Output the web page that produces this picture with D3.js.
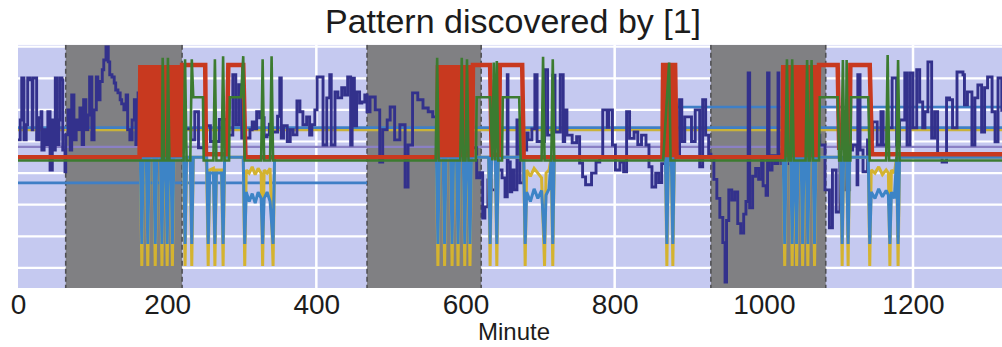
<!DOCTYPE html>
<html><head><meta charset="utf-8">
<script src="https://cdn.jsdelivr.net/npm/d3@7"></script>
<style>
html,body{margin:0;padding:0;background:#fff;}
svg{display:block;font-family:"Liberation Sans",Arial,sans-serif;}
</style></head><body>
<svg id="chart" width="1002" height="347"></svg>
<script>
// ---------- data ----------
const chartTitle = "Pattern discovered by [1]";
const xLabel = "Minute";
const xTicks = [0,200,400,600,800,1000,1200];
const xGrid = [400,800,1200];
const yGrid = [0,10,20,30,40,50,60,70];
const shadedSpans = [[64,220],[468,621],[929,1083]];

// level (constant) lines
const levelLavender = [[0,38.3],[1320,38.3]];
const levelYellow = [[0,43.6],[1320,43.6]];
const levelBlue = [[0,44.4],[1320,44.4]];
const levelBlueHigh = [[867,50.9],[1320,50.9]];
const levelBlueLow = [[0,26.9],[468,26.9]];

// dark navy signal
const navySeries = [
[0,40.5],[3,46.8],[5,60.1],[8,40.5],[11,45.3],[13,60.1],[16,59.5],[19,43.7],[20,60.1],[24,60.1],[25,40.5],[28,47.5],[31,49.4],[32,37.3],[35,43.7],[38,39],[40,49.4],[43,31],[46,46.8],[48,37.3],[50,60.1],[52,39],[55,46.8],[56,60.1],[59,59.5],[60,37.3],[63,30.4],[64,42.1],
[67,50],[70,37.3],[72,54.7],[75,40.5],[78,46.8],[80,43.7],[83,50.6],[86,39],[88,53.2],[91,43.7],[94,48.4],[96,60.4],[99,40.5],[102,50],[105,60.4],[107,53.2],[110,59],[113,62.7],[115,65.8],[118,69.9],[121,65.2],[123,61.1],[126,60.4],[129,58.5],[131,56.3],[134,55.4],[137,53.2],[139,51.9],[142,50],[145,54.7],[147,43.7],[150,40.5],[153,46.8],[156,53.2],[158,39],[161,55.4],[164,37.3],
[170,45],[180,40],[190,48],[200,42],[210,38],[220,44],[232,40.5],[237,49.4],[242,38],[250,45],[258,40],[270,47],[280,42],[288,61.1],[292,45.3],[296,58],[300,41.1],
[307,41.1],[311,43.7],[314,46.2],[317,44],[320,49.4],[324,47.5],[330,41.5],[334,42.1],[337,45.5],[340,43],[348,48],[351,60.1],[353,41.1],[356,45],[361,40],[365,43.7],[369,42.1],[374,52.8],[378,49.4],[382,45.3],[387,47.8],[391,42],[394,45.3],[398,50],[401,60.4],[405,60.4],[408,60.4],[409,38.9],[414,53.8],[418,61.1],[420,38.9],[425,55.7],[429,53.8],[434,57],[438,54.7],[442,60.4],[444,60.4],[446,38.9],[448,60],[451,45],[454,55.7],[458,52.2],[461,52.5],[465,54.7],[468,49.4],
[472,54.1],[479,50],[485,33.5],[489,43.7],[495,46.8],[499,50.9],[505,40.5],[512,45.3],[519,25.6],[523,38.9],[529,55.4],[536,53.2],[543,50.6],[550,49.4],[556,47.8],[562,43.7],
[572,40],[586,42],[599,40],[609,38],[615,28.5],[619,30.1],[623,15.8],[626,19.3],[630,27.8],[635,24.7],[642,31],[649,28.5],[653,22.5],[656,61.1],[657,33.5],[660,24.1],[662,31],[665,24.7],[669,46.8],[673,26.9],[678,37.3],[682,42.7],
[684,40.5],[689,44],[693,61.1],[696,40],[706,62.7],[710,42],[717,61],[720,43],[727,61.1],[731,40],[733,50],[736,42],[743,39.6],[749,41.5],[753,33.2],[757,28.8],[761,26.3],[769,30],[775,33.5],[780,35.1],[784,50],[790,44.5],[792,50],[797,38.9],[801,31],[807,33.5],[812,30.4],[816,49.4],[820,41],[826,43],[831,39],[836,42],[842,38.9],[846,32],[850,25.6],[855,30],[859,27],[863,33],
[870,32.6],[877,35],[883,35],[887,53.2],[890,40],[894,47.8],[899,47.8],[903,40],[908,50],[912,50],[914,32],[918,53.2],[922,42],[926,36],
[929,35],[933,28],[937,22],[941,16],[945,8],[948,-4.5],[950,15],[953,24.7],[957,21.5],[961,24],[965,14],[969,11],[973,17],[976,21],[979,61.7],[981,19],[985,29],[989,31.5],[993,28],[997,35],[999,26],[1003,23],[1005,61.7],[1007,31],[1011,35.5],[1015,33],[1019,61.7],[1020,36],[1024,33],
[1042,40],[1062,42],[1075,38.9],[1082,24.7],[1088,12.7],[1092,31],[1097,17.7],[1102,34.2],[1109,24.7],[1115,37.3],[1119,38.9],[1125,26.3],[1126,61.1],[1129,37.3],[1133,30.4],[1139,40.5],[1146,46.2],[1152,38.9],[1157,49.4],[1160,38.9],
[1165,44.3],[1172,60.1],[1178,38.9],[1182,46.8],[1189,61.7],[1192,38.9],[1196,61.7],[1200,44.3],[1205,62.7],[1209,52.5],[1213,44.3],[1216,49.4],[1220,65.2],[1225,41.1],[1229,49.4],[1233,35.8],[1239,33.5],[1245,53.8],[1249,53.2],[1253,44.3],[1259,62],[1263,62],[1267,61.1],[1269,51.6],[1273,55.7],[1279,38.9],[1283,53.8],[1287,57.9],[1292,43],[1296,57],[1300,60.4],[1306,49.4],[1310,39.9],[1314,60.1],[1319,49.4]
];

// red signal
const redSeries = [
[0,35],[163,35],
[164,64.2],[166,35],[168,64.2],[170,35],[172,64.2],[174,35],[176,64.2],[178,35],[180,64.2],[182,35],[184,64.2],[186,35],[188,64.2],[190,35],[192,64.2],[194,35],[196,64.2],[198,35],[200,64.2],[202,35],[204,64.2],[206,35],[208,64.2],[210,35],[212,64.2],[214,35],[216,64.2],[218,35],[220,64.2],
[251,64.2],[252,36],[280,36],[282,64.2],[302,64.2],[305,35],[562,35],
[563,64.2],[565,35],[567,64.2],[569,35],[571,64.2],[573,35],[575,64.2],[577,35],[579,64.2],[581,35],[583,64.2],[585,35],[587,64.2],[589,35],[591,64.2],[593,35],[595,64.2],[597,35],[599,64.2],[601,35],[603,64.2],[605,35],[607,64.2],[609,35],[610,64.2],
[633,64.2],[635,35.8],[645,35.8],[646,64.2],[676,64.2],[678,35],[864,35],
[865,64.9],[867,35],[869,64.9],[871,35],[873,64.9],[875,35],[877,64.9],[879,35],[881,64.9],[883,35],[1025,35],
[1026,64.2],[1028,35],[1030,64.2],[1032,35],[1034,64.2],[1036,35],[1038,64.2],[1040,35],[1042,64.2],[1044,35],[1046,64.2],[1048,35],[1050,64.2],[1052,35],[1054,64.2],[1056,35],[1058,64.2],[1060,35],[1062,64.2],[1064,35],[1066,64.2],[1068,35],[1070,64.2],[1072,35],[1074,64.2],
[1099,64.2],[1101,38],[1115,38],[1116,64.2],[1142,64.2],[1145,36],[1320,36]
];

// green signal
const greenSeries = [
[0,34],[193,34],[194,66.5],[196,34],[200,34],[201,66.5],[203,34],[222,34],[224,66],[226,34],[231,34],[233,66],[235,54],[248,54],[249,34],[262,34],[264,66],[266,34],[273,34],[275,67],[277,34],[283,34],[284,54],[299,54],[302,67],[304,34],[326,34],[328,66],[330,34],[338,34],[340,67],[342,34],
[560,34],[562,66.5],[564,34],[593,34],[595,66.5],[597,34],[600,34],[602,66],[604,34],[614,34],[615,54],[633,54],[636,34],[638,65],[640,34],[642,65.5],[644,34],[649,34],[650,54],[672,54],[674,34],[702,34],[704,66.8],[706,34],[715,34],[717,66],[719,34],[865,34],[873,65],[875,34],
[1029,34],[1031,66],[1033,34],[1036,34],[1038,66],[1040,34],[1056,34],[1058,65.8],[1060,34],[1062,34],[1064,65.8],[1066,34],[1074,34],[1075,54],[1099,54],[1101,34],[1104,34],[1106,65.8],[1108,34],[1110,34],[1111,65.8],[1113,34],[1116,34],[1117,54],[1140,54],[1142,34],[1164,34],[1166,67.4],[1168,34],[1178,34],[1180,65.8],[1182,34],[1320,34]
];

// light blue signal
const blueSeries = [
[0,35],[164,35],[166,7.6],[168,35],[172,35],[174,7.6],[176,35],[182,35],[184,7.6],[186,35],[191,35],[193,7.6],[195,35],[198,35],[200,7.6],[202,35],[205,35],[207,7.6],[209,35],[222,35],[224,7.6],[226,35],[231,35],[233,7.6],[235,35],[253,35],[255,7.6],[257,30],[262,30],[264,7.6],[266,30],[273,30],[275,7.6],[277,35],[302,35],[304,7.6],[306,24],[310,21],[314,23.5],[318,20.5],[322,24],[326,22],[328,7.6],[330,22],[334,24],[338,21],[342,7.6],[344,35],
[561,35],[563,7.6],[565,35],[570,35],[572,7.6],[574,35],[580,35],[582,7.6],[584,35],[588,35],[590,7.6],[592,35],[597,35],[599,7.6],[601,35],[604,35],[606,7.6],[608,35],[631,35],[633,7.6],[635,35],[640,35],[642,7.6],[644,35],[678,35],[680,7.6],[682,24],[687,21],[692,25],[697,22],[702,24.5],[706,7.6],[708,23],[712,25],[715,35],[717,7.6],[719,35],
[868,35],[870,7.6],[872,35],[876,35],[878,7.6],[880,35],
[1026,35],[1028,7.6],[1030,35],[1036,35],[1038,7.6],[1040,35],[1042,35],[1044,7.6],[1046,35],[1050,35],[1052,7.6],[1054,35],[1057,35],[1059,7.6],[1061,35],[1066,35],[1068,7.6],[1070,35],[1103,35],[1105,7.6],[1107,35],[1111,35],[1113,7.6],[1115,35],[1140,35],[1142,7.6],[1144,24],[1149,22],[1154,25],[1159,22.5],[1164,24.5],[1167,23],[1169,7.6],[1171,24],[1175,22],[1178,35],[1180,7.6],[1182,35],[1320,35]
];

// yellow signal
const yellowSeries = [
[0,35],[164,35],[166,0.6],[168,35],[172,35],[174,0.6],[176,35],[182,35],[184,0.6],[186,35],[191,35],[193,0.6],[195,35],[198,35],[200,0.6],[202,35],[205,35],[207,0.6],[209,35],[222,35],[224,0.6],[226,35],[231,35],[233,0.6],[235,35],[252,35],[253,31],[255,0.6],[257,31],[262,31.5],[264,0.6],[266,31],[273,31],[275,0.6],[277,35],[302,35],[304,0.6],[306,31],[310,30],[314,32],[318,29.5],[322,31.5],[326,30],[328,0.6],[330,31],[334,30],[338,31.5],[342,0.6],[344,35],
[561,35],[563,0.6],[565,35],[570,35],[572,0.6],[574,35],[580,35],[582,0.6],[584,35],[588,35],[590,0.6],[592,35],[597,35],[599,0.6],[601,35],[604,35],[606,0.6],[608,35],[631,35],[633,0.6],[635,35],[640,35],[642,0.6],[644,35],[678,35],[680,0.6],[682,31],[687,29],[692,31.5],[697,30],[702,28.5],[706,0.6],[708,30],[712,31],[715,35],[717,0.6],[719,35],
[868,35],[870,0.6],[872,35],[876,35],[878,0.6],[880,35],
[1026,35],[1028,0.6],[1030,35],[1036,35],[1038,0.6],[1040,35],[1042,35],[1044,0.6],[1046,35],[1050,35],[1052,0.6],[1054,35],[1057,35],[1059,0.6],[1061,35],[1066,35],[1068,0.6],[1070,35],[1103,35],[1105,0.6],[1107,35],[1111,35],[1113,0.6],[1115,35],[1140,35],[1142,0.6],[1144,31],[1149,30],[1154,32],[1159,29.5],[1164,31],[1167,30],[1169,0.6],[1171,31],[1175,30],[1178,35],[1180,0.6],[1182,35],[1320,35]
];

// ---------- drawing ----------
const svg = d3.select("#chart");
const x = d3.scaleLinear().domain([0,1320]).range([18,1002.5]);
const y = d3.scaleLinear().domain([-7,70.6]).range([290,44.8]);
const yBottom = -6.4;

svg.append("defs").append("clipPath").attr("id","plotclip")
  .append("rect").attr("x",x(0)).attr("y",y(70.6)).attr("width",x(1320)-x(0)).attr("height",y(yBottom)-y(70.6));

const plot = svg.append("g").attr("clip-path","url(#plotclip)");

plot.append("rect").attr("x",x(0)).attr("y",y(70.6)).attr("width",x(1320)-x(0)).attr("height",y(yBottom)-y(70.6))
  .attr("fill","#c5c9f0");

plot.selectAll(".hgrid").data(yGrid).join("line").attr("class","hgrid")
  .attr("x1",x(0)).attr("x2",x(1320)).attr("y1",d=>y(d)).attr("y2",d=>y(d))
  .attr("stroke","#ffffff").attr("stroke-width",2.2);
plot.selectAll(".vgrid").data(xGrid).join("line").attr("class","vgrid")
  .attr("x1",d=>x(d)).attr("x2",d=>x(d)).attr("y1",y(70.6)).attr("y2",y(yBottom))
  .attr("stroke","#ffffff").attr("stroke-width",2.5);

const spans = plot.selectAll(".span").data(shadedSpans).join("g");
spans.append("rect").attr("x",d=>x(d[0])).attr("width",d=>x(d[1])-x(d[0]))
  .attr("y",y(70.6)).attr("height",y(yBottom)-y(70.6)).attr("fill","#808083");
spans.append("line").attr("x1",d=>x(d[0])).attr("x2",d=>x(d[0])).attr("y1",y(70.6)).attr("y2",y(yBottom))
  .attr("stroke","#505054").attr("stroke-width",1.6).attr("stroke-dasharray","5,3");
spans.append("line").attr("x1",d=>x(d[1])).attr("x2",d=>x(d[1])).attr("y1",y(70.6)).attr("y2",y(yBottom))
  .attr("stroke","#505054").attr("stroke-width",1.6).attr("stroke-dasharray","5,3");

const line = d3.line().x(d=>x(d[0])).y(d=>y(d[1]));
const stepLine = d3.line().curve(d3.curveStepAfter).x(d=>x(d[0])).y(d=>y(d[1]));
function draw(data, color, width, gen){
  plot.append("path").datum(data).attr("d",gen || line).attr("fill","none")
    .attr("stroke",color).attr("stroke-width",width).attr("stroke-linejoin","miter").attr("stroke-miterlimit",2);
}
draw(levelLavender,"#8a80c4",2.2);
draw(levelBlueLow,"#3f7fc6",2.6);
draw(levelYellow,"#c9b23a",2.2);
draw(levelBlue,"#3f7fc6",2.6);
draw(levelBlueHigh,"#3f7fc6",2.6);
draw(navySeries,"#33318c",2.9,stepLine);
draw(yellowSeries,"#d4b330",3);
draw(blueSeries,"#3d84c6",3);
draw(redSeries,"#c8391f",4.5);
draw(greenSeries,"#3c7b30",2.6);

// axis
const axis = d3.axisBottom(x).tickValues(xTicks).tickSize(0).tickPadding(4).tickFormat(d3.format("d"));
const ag = svg.append("g").attr("transform","translate(0,290)").call(axis);
ag.select(".domain").remove();
ag.selectAll("text").attr("font-size",28).attr("fill","#1c1c1c").attr("font-family","'Liberation Sans',Arial,sans-serif");

svg.append("text").attr("x",514).attr("y",340).attr("text-anchor","middle")
  .attr("font-size",24).attr("fill","#1c1c1c").text(xLabel);

svg.append("text").attr("x",513).attr("y",33).attr("text-anchor","middle")
  .attr("font-size",34).attr("fill","#1c1c1c").text(chartTitle);
</script>
</body></html>
